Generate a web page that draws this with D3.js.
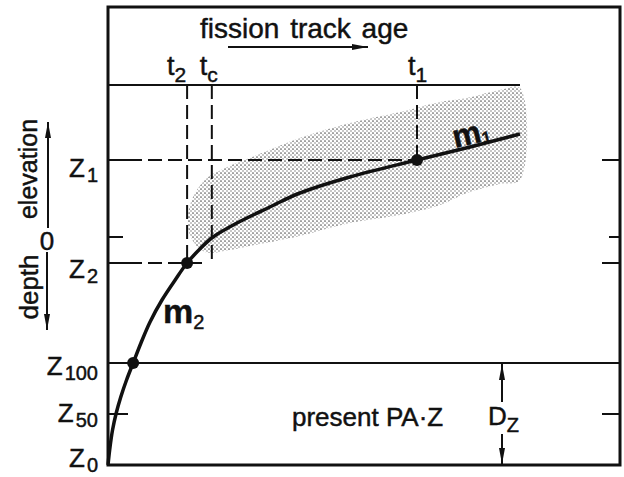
<!DOCTYPE html>
<html>
<head>
<meta charset="utf-8">
<script src="https://cdn.jsdelivr.net/npm/d3@7"></script>
<style>
body{margin:0;background:#fff}
svg{display:block}
text{font-family:"Liberation Sans",Arial,sans-serif;fill:#111;stroke:#111;stroke-width:0.45}
</style>
</head>
<body>
<div id="board"></div>
<script>
// age runs 0..100 along the top, level 0..380 from Z0 upwards
var curveAge   = [0,0.4,1.1,2.0,3.1,4.5,6.1,8.0,10.2,13.1,16.3,19.2,22.3,25.5,31.3,39.3,46.6,58.7,75.0,87.9,100];
var curveLevel = [0,15,35,52,68,85,102,122,143,165,185,202,216,228,242,258,272,288,305,318,331];

var bandAge    = [19.9,23.5,28.4,36.2,46.6,58.7,70.9,80.6,87.1,95.1,100];
var bandTop    = [260,285,297,310,327,342,353,363,367,375,377];
var bandBotAge = [19.9,23.5,29.6,34.5,46.6,58.7,70.9,80.6,87.1,95.1,100];
var bandBottom = [230,213,215,219,229,242,250,260,272,281,285];

var dotAge   = [6.1,19.2,75];
var dotLevel = [102,202,305];

var zSubs   = ["0","50","100","2","1"];
var zLevels = [0,51,102,202,305];
var zeroLevel = 228;

var tSubs = ["2","c","1"];
var tAges = [19.2,25.2,75];

var self = {};

self.draw = function(){
    var W = 624, H = 477;
    var svg = d3.select("#board").append("svg")
        .attr("width",W).attr("height",H);

    var x = d3.scaleLinear().domain([0,100]).range([108,520]);
    var y = d3.scaleLinear().domain([0,380]).range([465,85]);

    var defs = svg.append("defs");
    var pat = defs.append("pattern").attr("id","stip")
        .attr("width",4).attr("height",4).attr("patternUnits","userSpaceOnUse");
    pat.append("circle").attr("cx",1).attr("cy",1).attr("r",0.85).attr("fill","#555");
    pat.append("circle").attr("cx",3).attr("cy",3).attr("r",0.7).attr("fill","#666");

    defs.append("marker").attr("id","ah")
        .attr("viewBox","0 0 16 6").attr("refX",16).attr("refY",3)
        .attr("markerWidth",16).attr("markerHeight",6)
        .attr("markerUnits","userSpaceOnUse").attr("orient","auto")
      .append("path").attr("d","M0,0L16,3L0,6Z").attr("fill","#111");

    // stippled band
    var bandPts = bandAge.map(function(a,i){ return [x(a),y(bandTop[i])]; })
        .concat(bandBotAge.map(function(a,i){ return [x(a),y(bandBottom[i])]; }).reverse());
    svg.append("path")
        .attr("d", d3.line().curve(d3.curveCatmullRomClosed.alpha(0.5))(bandPts))
        .attr("fill","url(#stip)");

    // frame
    svg.append("rect").attr("x",108).attr("y",7)
        .attr("width",620-108).attr("height",465-7)
        .attr("fill","none").attr("stroke","#111").attr("stroke-width",3);
    svg.append("line").attr("x1",108).attr("x2",x(100))
        .attr("y1",y(380)).attr("y2",y(380))
        .attr("stroke","#111").attr("stroke-width",2);

    // Z100 line
    svg.append("line").attr("x1",108).attr("x2",620)
        .attr("y1",y(102)).attr("y2",y(102))
        .attr("stroke","#111").attr("stroke-width",2);

    // ticks
    var tickLv = [51,202,zeroLevel,305];
    var tickLen = [20,20,15,20];
    var rtLen = [18,18,11,18];
    tickLv.forEach(function(v,i){
        svg.append("line").attr("x1",108).attr("x2",108+tickLen[i])
            .attr("y1",y(v)).attr("y2",y(v)).attr("stroke","#111").attr("stroke-width",2);
        svg.append("line").attr("x1",620-rtLen[i]).attr("x2",620)
            .attr("y1",y(v)).attr("y2",y(v)).attr("stroke","#111").attr("stroke-width",2);
    });

    // dashed guides
    var dash = "14,6";
    function dl(x1,y1,x2,y2){
        svg.append("line").attr("x1",x1).attr("y1",y1).attr("x2",x2).attr("y2",y2)
            .attr("stroke","#111").attr("stroke-width",2).attr("stroke-dasharray",dash);
    }
    dl(x(tAges[0]),y(380),x(tAges[0]),y(202));
    dl(x(tAges[1]),y(380),x(tAges[1]),y(202));
    dl(x(tAges[2]),y(380),x(tAges[2]),y(305));
    dl(128,y(305),x(tAges[2]),y(305));
    dl(128,y(202),x(tAges[1])-6,y(202));

    // curve
    var line = d3.line().x(function(d){return x(d[0]);}).y(function(d){return y(d[1]);})
        .curve(d3.curveMonotoneY);
    svg.append("path")
        .attr("d", line(curveAge.map(function(a,i){ return [a,curveLevel[i]]; })))
        .attr("fill","none").attr("stroke","#111").attr("stroke-width",3.5);

    svg.selectAll("circle.dot").data(dotAge).enter().append("circle")
        .attr("class","dot")
        .attr("cx",function(d){return x(d);})
        .attr("cy",function(d,i){return y(dotLevel[i]);})
        .attr("r",6).attr("fill","#111");

    // header
    svg.append("text").attr("x",200).attr("y",38)
        .attr("font-size",28).attr("word-spacing",3).text("fission track age");
    svg.append("line").attr("x1",228).attr("x2",368).attr("y1",47).attr("y2",47)
        .attr("stroke","#111").attr("stroke-width",2).attr("marker-end","url(#ah)");

    var tDx = [-20,-12,-9];
    tAges.forEach(function(a,i){
        var t = svg.append("text").attr("x",x(a)+tDx[i]).attr("y",75).attr("font-size",27).text("t");
        t.append("tspan").attr("dy",7).attr("font-size",21).text(tSubs[i]);
    });

    // Z labels
    var zDy = [2,8,12,15,17];
    zLevels.forEach(function(v,i){
        var t = svg.append("text").attr("x",98).attr("y",y(v)+zDy[i])
            .attr("text-anchor","end").attr("font-size",26).text("Z");
        t.append("tspan").attr("dx",2).attr("dy",5).attr("font-size",20).text(zSubs[i]);
    });

    // left axis title
    svg.append("text").attr("transform","translate(37,169) rotate(-90)")
        .attr("text-anchor","middle").attr("font-size",25).text("elevation");
    svg.append("text").attr("transform","translate(38,287) rotate(-90)")
        .attr("text-anchor","middle").attr("font-size",26).text("depth");
    svg.append("text").attr("x",47).attr("y",y(zeroLevel)+13)
        .attr("text-anchor","middle").attr("font-size",26).text("0");
    svg.append("line").attr("x1",48).attr("x2",48).attr("y1",228).attr("y2",122)
        .attr("stroke","#111").attr("stroke-width",2).attr("marker-end","url(#ah)");
    svg.append("line").attr("x1",47).attr("x2",47).attr("y1",252).attr("y2",330)
        .attr("stroke","#111").attr("stroke-width",2).attr("marker-end","url(#ah)");

    // m labels
    var m2 = svg.append("text").attr("x",163).attr("y",323)
        .attr("font-size",34).attr("font-weight","bold").text("m");
    m2.append("tspan").attr("dy",6).attr("font-size",20).attr("font-weight","normal").text("2");
    var m1 = svg.append("text").attr("transform","translate(455,148) rotate(-13)")
        .attr("font-size",32).attr("font-weight","bold").text("m");
    m1.append("tspan").attr("dy",2).attr("font-size",16).text("1");

    // present PAZ and Dz
    svg.append("text").attr("x",292).attr("y",426).attr("font-size",26)
        .text("present PA\u00b7Z");
    var dz = svg.append("text").attr("x",488).attr("y",425).attr("font-size",26).text("D");
    dz.append("tspan").attr("dy",7).attr("font-size",20).text("Z");
    svg.append("line").attr("x1",502).attr("x2",502).attr("y1",402).attr("y2",y(102)+1)
        .attr("stroke","#111").attr("stroke-width",2).attr("marker-end","url(#ah)");
    svg.append("line").attr("x1",502).attr("x2",502).attr("y1",434).attr("y2",464)
        .attr("stroke","#111").attr("stroke-width",2).attr("marker-end","url(#ah)");
};

window.onload = self.draw;
</script>
</body>
</html>
